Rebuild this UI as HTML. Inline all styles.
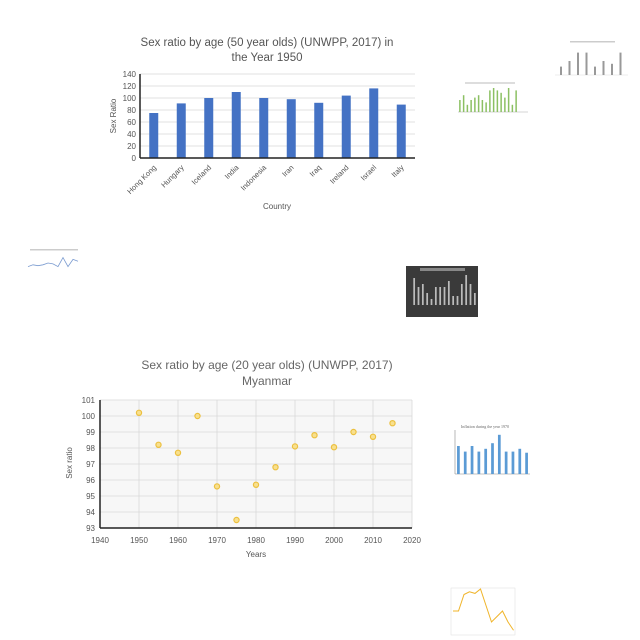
<!DOCTYPE html>
<html><head><meta charset="utf-8"><style>
body{margin:0;background:#fff;}
svg{display:block;font-family:"Liberation Sans",sans-serif;}
</style></head><body>
<svg id="s" width="640" height="640" viewBox="0 0 640 640">
<g id="bar">
<text x="267" y="46" text-anchor="middle" font-size="11.5" fill="#555">Sex ratio by age (50 year olds) (UNWPP, 2017) in</text>
<text x="267" y="61" text-anchor="middle" font-size="11.5" fill="#555">the Year 1950</text>
<text x="116" y="116" text-anchor="middle" font-size="8" fill="#555" transform="rotate(-90 116 116)">Sex Ratio</text>
<text x="277" y="209" text-anchor="middle" font-size="8" fill="#555">Country</text>
</g>
<g id="sc">
<text x="267" y="369" text-anchor="middle" font-size="12" fill="#666">Sex ratio by age (20 year olds) (UNWPP, 2017)</text>
<text x="267" y="385" text-anchor="middle" font-size="12" fill="#666">Myanmar</text>
<text x="72" y="463" text-anchor="middle" font-size="8" fill="#555" transform="rotate(-90 72 463)">Sex ratio</text>
<text x="256" y="557" text-anchor="middle" font-size="8" fill="#555">Years</text>
</g>
<g id="thumbs"></g>
</svg>
<script>
const NS="http://www.w3.org/2000/svg";
const countries=["Hong Kong","Hungary","Iceland","India","Indonesia","Iran","Iraq","Ireland","Israel","Italy"];
const ratios=[75,91,100,110,100,98,92,104,116,89];
const barTicks=[0,20,40,60,80,100,120,140];
const years=[1950,1955,1960,1965,1970,1975,1980,1985,1990,1995,2000,2005,2010,2015];
const sexRatio20=[100.2,98.2,97.7,100.0,95.6,93.5,95.7,96.8,98.1,98.8,98.05,99.0,98.7,99.55];
const scYTicks=[93,94,95,96,97,98,99,100,101];
const scXTicks=[1940,1950,1960,1970,1980,1990,2000,2010,2020];
function mk(tag,attrs,parent,txt){const e=document.createElementNS(NS,tag);for(const k in attrs)e.setAttribute(k,attrs[k]);if(txt!==undefined)e.textContent=txt;parent.appendChild(e);return e;}
const bg=document.getElementById('bar');
const bx0=140,bx1=415,by0=158,by1=74;
const yB=v=>by0-(v-0)/(140-0)*(by0-by1);
const step=(bx1-bx0)/countries.length;
const xB=i=>bx0+step*(i+0.5);
barTicks.forEach(t=>{
 const l=mk('line',{x1:bx0,x2:bx1,y1:yB(t),y2:yB(t),stroke:'#d9d9d9','stroke-width':0.8},bg);
 
 
 const tx=mk('text',{x:bx0-4,y:yB(t)+3,'text-anchor':'end','font-size':8,fill:'#555'},bg,t);
 
 
});
ratios.forEach((v,i)=>{
 const r=mk('rect',{x:xB(i)-4.5,y:yB(v),width:9,height:by0-yB(v),fill:'#4472c4'},bg);
 
 
 const tx=mk('text',{x:xB(i)+3,y:by0+10,'text-anchor':'end','font-size':7.5,fill:'#555',transform:`rotate(-45 ${xB(i)+3} ${by0+10})`},bg,countries[i]);
 
 
});
mk('line',{x1:bx0,x2:bx0,y1:by1,y2:by0,stroke:'#222','stroke-width':1.5},bg);
mk('line',{x1:bx0,x2:bx1,y1:by0,y2:by0,stroke:'#222','stroke-width':1.5},bg);
const sg=document.getElementById('sc');
const sx0=100,sx1=412,sy0=528,sy1=400;
const xS=v=>sx0+(v-1940)/(2020-1940)*(sx1-sx0);
const yS=v=>sy0-(v-93)/(101-93)*(sy0-sy1);
mk('rect',{x:sx0,y:sy1,width:sx1-sx0,height:sy0-sy1,fill:'#f7f7f7'},sg);
scYTicks.forEach(t=>{
 const l=mk('line',{x1:sx0,x2:sx1,y1:yS(t),y2:yS(t),stroke:'#d9d9d9','stroke-width':0.8},sg);
 
 
 const tx=mk('text',{x:sx0-5,y:yS(t)+3,'text-anchor':'end','font-size':8,fill:'#555'},sg,t);
 
 
});
scXTicks.forEach(t=>{
 const l=mk('line',{x1:xS(t),x2:xS(t),y1:sy1,y2:sy0,stroke:'#d9d9d9','stroke-width':0.8},sg);
 
 
 const tx=mk('text',{x:xS(t),y:sy0+15,'text-anchor':'middle','font-size':8,fill:'#555'},sg,t);
 
 
});
mk('line',{x1:sx0,x2:sx0,y1:sy1,y2:sy0,stroke:'#222','stroke-width':1.5},sg);
mk('line',{x1:sx0,x2:sx1,y1:sy0,y2:sy0,stroke:'#222','stroke-width':1.5},sg);
years.forEach((y,i)=>{
 const c=mk('circle',{cx:xS(y),cy:yS(sexRatio20[i]),r:2.6,fill:'#f8e08e',stroke:'#ecc040','stroke-width':1.2},sg);
 
 
});
const tg=document.getElementById('thumbs');
const greenVals=[5,7,3,5,6,7,5,4,9,10,9,8,6,10,3,9];
const darkVals=[9,6,7,4,2,6,6,6,8,3,3,7,10,7,4];
const topDots=[3,5,8,8,3,5,4,8];
const inflVals=[5,4,5,4,4.5,5.5,7,4,4,4.5,3.8];
const orangeVals=[4,4,7,7.5,7.2,8,5,2,3,4,2,0.5];
const blueVals=[3,4,3.5,4,5,4.5,3,8,3,7,6];
function thumbBars(vals,x,y,w,h,color,max,name){
 const s=w/vals.length;
 vals.forEach((v,i)=>{
  const r=mk('rect',{x:x+s*i+s*0.3,y:y+h-v/max*h,width:s*0.4,height:v/max*h,fill:color},tg);
  
  
 });
}
mk('line',{x1:458,x2:528,y1:112,y2:112,stroke:'#aaa','stroke-width':0.5},tg);
mk('rect',{x:465,y:82,width:50,height:2,fill:'#ddd'},tg);
thumbBars(greenVals,458,88,60,24,'#8cc063',10,'green-thumb-bar');
mk('rect',{x:570,y:41,width:45,height:1.5,fill:'#ccc'},tg);
mk('line',{x1:555,x2:628,y1:75,y2:75,stroke:'#ddd','stroke-width':0.5},tg);
topDots.forEach((v,i)=>{const r=mk('rect',{x:560+i*8.5,y:75-v*2.8,width:2,height:v*2.8,fill:'#999'},tg);
 
 });
mk('rect',{x:406,y:266,width:72,height:51,fill:'#3a3a3a'},tg);
mk('rect',{x:420,y:268,width:45,height:3,fill:'#888'},tg);
thumbBars(darkVals,412,275,65,30,'#bbb',10,'dark-thumb-bar');
mk('text',{x:485,y:428,'text-anchor':'middle','font-size':4,fill:'#666','font-family':'Liberation Serif'},tg,'Inflation during the year 1970');
mk('line',{x1:455,x2:530,y1:474,y2:474,stroke:'#888','stroke-width':0.6},tg);
mk('line',{x1:455,x2:455,y1:430,y2:474,stroke:'#888','stroke-width':0.6},tg);
thumbBars(inflVals,455,432,75,42,'#5b9bd5',7.5,'inflation-thumb-bar');
mk('rect',{x:451,y:588,width:64,height:47,fill:'none',stroke:'#ddd','stroke-width':0.5},tg);
let pts=orangeVals.map((v,i)=>`${453+i*5.5},${633-v*5.5}`).join(' ');
mk('polyline',{points:pts,fill:'none',stroke:'#f0b429','stroke-width':1},tg);
mk('rect',{x:30,y:249,width:48,height:1.5,fill:'#ccc'},tg);
pts=blueVals.map((v,i)=>`${28+i*5},${272-v*1.8}`).join(' ');
mk('polyline',{points:pts,fill:'none',stroke:'#7a9bd0','stroke-width':0.8},tg);
</script>
</body></html>
